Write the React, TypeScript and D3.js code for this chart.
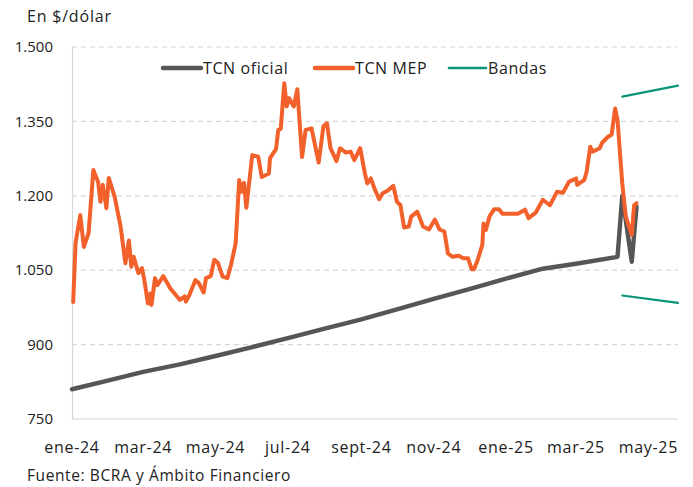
import React, { useRef, useEffect } from 'react';
import * as d3 from 'd3';

// Tipo de cambio MEP
const mepFechas = [
  '2024-01-02', '2024-01-03', '2024-01-04', '2024-01-08', '2024-01-11', '2024-01-15', '2024-01-19', '2024-01-23',
  '2024-01-25', '2024-01-27', '2024-01-30', '2024-02-01', '2024-02-06', '2024-02-11', '2024-02-15', '2024-02-18',
  '2024-02-20', '2024-02-22', '2024-02-26', '2024-02-29', '2024-03-02', '2024-03-05', '2024-03-07', '2024-03-08',
  '2024-03-11', '2024-03-13', '2024-03-18', '2024-03-24', '2024-04-01', '2024-04-05', '2024-04-06', '2024-04-09',
  '2024-04-14', '2024-04-17', '2024-04-21', '2024-04-23', '2024-04-27', '2024-04-30', '2024-05-03', '2024-05-07',
  '2024-05-11', '2024-05-14', '2024-05-18', '2024-05-21', '2024-05-23', '2024-05-25', '2024-05-27', '2024-06-01',
  '2024-06-06', '2024-06-09', '2024-06-15', '2024-06-16', '2024-06-21', '2024-06-23', '2024-06-25', '2024-06-28',
  '2024-06-30', '2024-07-02', '2024-07-06', '2024-07-09', '2024-07-10', '2024-07-13', '2024-07-16', '2024-07-21',
  '2024-07-27', '2024-07-31', '2024-08-03', '2024-08-06', '2024-08-11', '2024-08-14', '2024-08-19', '2024-08-23',
  '2024-08-26', '2024-08-31', '2024-09-04', '2024-09-06', '2024-09-09', '2024-09-12', '2024-09-16', '2024-09-19',
  '2024-09-23', '2024-09-28', '2024-10-01', '2024-10-04', '2024-10-07', '2024-10-11', '2024-10-13', '2024-10-18',
  '2024-10-20', '2024-10-23', '2024-10-28', '2024-11-02', '2024-11-06', '2024-11-10', '2024-11-13', '2024-11-17',
  '2024-11-22', '2024-11-26', '2024-11-30', '2024-12-03', '2024-12-05', '2024-12-08', '2024-12-12', '2024-12-13',
  '2024-12-15', '2024-12-18', '2024-12-22', '2024-12-26', '2024-12-29', '2025-01-04', '2025-01-11', '2025-01-17',
  '2025-01-20', '2025-01-26', '2025-02-01', '2025-02-07', '2025-02-13', '2025-02-18', '2025-02-23', '2025-03-01',
  '2025-03-02', '2025-03-08', '2025-03-10', '2025-03-13', '2025-03-15', '2025-03-21', '2025-03-23', '2025-03-28',
  '2025-03-31', '2025-04-03', '2025-04-05', '2025-04-09', '2025-04-12', '2025-04-17', '2025-04-19', '2025-04-21',
];
const mepValores = [
  986, 1045, 1105, 1161, 1097, 1125, 1252, 1228,
  1188, 1222, 1175, 1236, 1198, 1138, 1064, 1110,
  1057, 1077, 1044, 1054, 1030, 983, 1003, 980,
  1034, 1020, 1038, 1013, 990, 997, 987, 1000,
  1030, 1024, 1005, 1034, 1038, 1071, 1065, 1037,
  1034, 1060, 1104, 1232, 1208, 1226, 1176, 1282,
  1279, 1238, 1245, 1276, 1294, 1333, 1335, 1427,
  1380, 1397, 1380, 1415, 1380, 1278, 1333, 1336,
  1267, 1340, 1346, 1296, 1270, 1296, 1287, 1289,
  1272, 1296, 1245, 1225, 1235, 1215, 1193, 1205,
  1210, 1220, 1188, 1181, 1136, 1138, 1158, 1168,
  1157, 1138, 1132, 1152, 1132, 1128, 1084, 1077,
  1079, 1074, 1074, 1052, 1052, 1070, 1101, 1144,
  1131, 1158, 1173, 1173, 1164, 1164, 1164, 1172,
  1155, 1166, 1192, 1181, 1208, 1206, 1228, 1235,
  1222, 1232, 1249, 1299, 1289, 1296, 1307, 1319,
  1323, 1376, 1353, 1225, 1158, 1121, 1181, 1185,
];

// Tipo de cambio oficial
const oficialFechas = [
  '2024-01-01', '2024-02-01', '2024-03-01', '2024-04-01', '2024-05-01', '2024-06-01', '2024-07-01',
  '2024-08-01', '2024-09-01', '2024-10-01', '2024-11-01', '2024-12-01', '2025-01-01', '2025-02-01',
  '2025-03-01', '2025-04-05', '2025-04-09', '2025-04-17', '2025-04-21',
];
const oficialValores = [
  810, 828, 845, 860, 877, 895, 913,
  932, 951, 971, 992, 1012, 1033, 1053,
  1063, 1077, 1200, 1067, 1178,
];

// Bandas cambiarias
const bandasFechas = ['2025-04-09', '2025-05-26'];
const bandaSuperior = [1400, 1422];
const bandaInferior = [999, 984];

const yTicks = [750, 900, 1050, 1200, 1350, 1500];
const xTickLabels = ['ene-24', 'mar-24', 'may-24', 'jul-24', 'sept-24', 'nov-24', 'ene-25', 'mar-25', 'may-25'];
const xTickFechas = ['2024-01-01', '2024-03-01', '2024-05-01', '2024-07-01', '2024-09-01', '2024-11-01', '2025-01-01', '2025-03-01', '2025-05-01'];

const FONT = '"Open Sans", sans-serif';
const GRAY = '#565656';
const ORANGE = '#F2612B';
const TEAL = '#0A9479';

const App = () => {
  const ref = useRef<SVGSVGElement | null>(null);

  useEffect(() => {
    const parse = d3.utcParse('%Y-%m-%d');
    const svg = d3.select(ref.current);
    svg.selectAll('*').remove();

    const x = d3.scaleUtc()
      .domain([parse('2024-01-01')!, parse('2025-05-26')!])
      .range([72, 678]);
    const y = d3.scaleLinear().domain([750, 1500]).range([419, 47]);

    // grilla
    svg.append('g')
      .selectAll('line')
      .data(yTicks.filter(t => t > 750))
      .join('line')
      .attr('x1', 72).attr('x2', 678)
      .attr('y1', d => y(d)).attr('y2', d => y(d))
      .attr('stroke', '#d6d6d6')
      .attr('stroke-width', 1.2)
      .attr('stroke-dasharray', '5,4');

    svg.append('line')
      .attr('x1', 72.5).attr('x2', 72.5).attr('y1', y(1500)).attr('y2', y(750))
      .attr('stroke', '#d6d6d6').attr('stroke-width', 1.2);
    svg.append('line')
      .attr('x1', 72).attr('x2', 678).attr('y1', y(750)).attr('y2', y(750))
      .attr('stroke', '#d6d6d6').attr('stroke-width', 1.2);

    const fmt = d3.formatLocale({ decimal: ',', thousands: '.', grouping: [3], currency: ['$', ''] }).format(',');

    svg.append('g')
      .selectAll('text')
      .data(yTicks)
      .join('text')
      .attr('x', 53)
      .attr('y', d => y(d))
      .attr('dy', '0.35em')
      .attr('text-anchor', 'end')
      .attr('font-family', FONT)
      .attr('font-size', 15)
      .attr('fill', '#222')
      .text(d => fmt(d));

    svg.append('g')
      .selectAll('text')
      .data(xTickLabels)
      .join('text')
      .attr('x', (d, i) => x(parse(xTickFechas[i])!))
      .attr('y', 453)
      .attr('text-anchor', 'middle')
      .attr('font-family', FONT)
      .attr('font-size', 16)
      .attr('letter-spacing', 0.7)
      .attr('fill', '#222')
      .text(d => d);

    const line = d3.line<[Date, number]>()
      .x(d => x(d[0]))
      .y(d => y(d[1]));

    const oficial: [Date, number][] = oficialFechas.map((f, i) => [parse(f)!, oficialValores[i]]);
    const mep: [Date, number][] = mepFechas.map((f, i) => [parse(f)!, mepValores[i]]);
    const sup: [Date, number][] = bandasFechas.map((f, i) => [parse(f)!, bandaSuperior[i]]);
    const inf: [Date, number][] = bandasFechas.map((f, i) => [parse(f)!, bandaInferior[i]]);

    const series = [
      { data: sup, color: TEAL, w: 2.2 },
      { data: inf, color: TEAL, w: 2.2 },
      { data: oficial, color: GRAY, w: 4.4 },
      { data: mep, color: ORANGE, w: 4 },
    ];
    svg.append('g')
      .selectAll('path')
      .data(series)
      .join('path')
      .attr('d', d => line(d.data))
      .attr('fill', 'none')
      .attr('stroke', d => d.color)
      .attr('stroke-width', d => d.w)
      .attr('stroke-linejoin', 'round')
      .attr('stroke-linecap', 'round');

    // leyenda
    const legend = [
      { label: 'TCN oficial', color: GRAY, x0: 163, x1: 201, w: 4.5 },
      { label: 'TCN MEP', color: ORANGE, x0: 315, x1: 353, w: 4.5 },
      { label: 'Bandas', color: TEAL, x0: 449, x1: 486, w: 2.6 },
    ];
    const lg = svg.append('g').selectAll('g').data(legend).join('g');
    lg.append('line')
      .attr('x1', d => d.x0).attr('x2', d => d.x1)
      .attr('y1', 68).attr('y2', 68)
      .attr('stroke', d => d.color)
      .attr('stroke-width', d => d.w)
      .attr('stroke-linecap', 'round');
    lg.append('text')
      .attr('x', d => d.x1 + 2)
      .attr('y', 68)
      .attr('dy', '0.35em')
      .attr('font-family', FONT)
      .attr('font-size', 16)
      .attr('letter-spacing', 0.6)
      .attr('fill', '#222')
      .text(d => d.label);

    svg.append('text')
      .attr('x', 27).attr('y', 22)
      .attr('font-family', FONT).attr('font-size', 16).attr('fill', '#222')
      .attr('letter-spacing', 0.8)
      .text('En $/dólar');

    svg.append('text')
      .attr('x', 27).attr('y', 481)
      .attr('font-family', FONT).attr('font-size', 15.5).attr('fill', '#222')
      .attr('letter-spacing', 0.6)
      .text('Fuente: BCRA y Ámbito Financiero');
  }, []);

  return (
    <svg ref={ref} width={693} height={487} style={{ position: 'absolute', left: 0, top: 0, background: '#fff' }} />
  );
};

export default App;
